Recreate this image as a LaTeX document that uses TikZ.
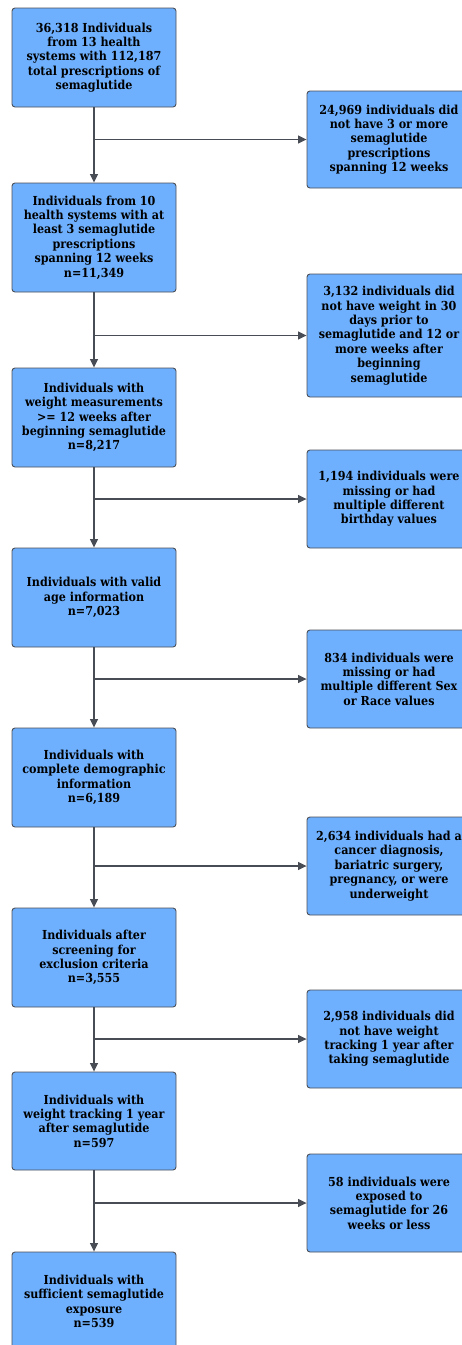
\documentclass[tikz,border=0pt]{standalone}
\usepackage{fontspec}
\setmainfont{DejaVu Serif Condensed}
\usetikzlibrary{arrows.meta}
\definecolor{boxfill}{HTML}{6EB0FD}
\definecolor{boxline}{HTML}{4A4F58}
\definecolor{arrowcol}{HTML}{474C55}
\tikzset{
  box/.style={draw=boxline, fill=boxfill, line width=0.9pt, rounded corners=3pt,
    minimum width=164pt, inner sep=0pt, align=center,
    font=\fontsize{12.4pt}{14.4pt}\selectfont\bfseries},
  flow/.style={draw=arrowcol, line width=1.2pt, -{Triangle[length=8.5pt,width=8pt]}}
}
\begin{document}
\begin{tikzpicture}[x=1pt,y=-1pt]
\useasboundingbox (0,0) rectangle (462,1345);
\clip (0,0) rectangle (462,1345);
% left column
\node[box, minimum height=99pt] (L1) at (94,57.5) {36,318 Individuals\\from 13 health\\systems with 112,187\\total prescriptions of\\semaglutide};
\node[box, minimum height=109pt] (L2) at (94,237.5) {Individuals from 10\\health systems with at\\least 3 semaglutide\\prescriptions\\spanning 12 weeks\\n=11,349};
\node[box, minimum height=99pt] (L3) at (94,417.5) {Individuals with\\weight measurements\\>= 12 weeks after\\beginning semaglutide\\n=8,217};
\node[box, minimum height=99pt] (L4) at (94,597.5) {Individuals with valid\\age information\\n=7,023};
\node[box, minimum height=99pt] (L5) at (94,777.5) {Individuals with\\complete demographic\\information\\n=6,189};
\node[box, minimum height=99pt] (L6) at (94,957.5) {Individuals after\\screening for\\exclusion criteria\\n=3,555};
\node[box, minimum height=98pt] (L7) at (94,1121) {Individuals with\\weight tracking 1 year\\after semaglutide\\n=597};
\node[box, minimum height=99pt] (L8) at (94,1301.5) {Individuals with\\sufficient semaglutide\\exposure\\n=539};
% right column
\node[box, minimum height=97pt] (R1) at (389,139.5) {24,969 individuals did\\not have 3 or more\\semaglutide\\prescriptions\\spanning 12 weeks};
\node[box, minimum height=123pt] (R2) at (389,335.5) {3,132 individuals did\\not have weight in 30\\days prior to\\semaglutide and 12 or\\more weeks after\\beginning\\semaglutide};
\node[box, minimum height=98pt] (R3) at (389,499) {1,194 individuals were\\missing or had\\multiple different\\birthday values};
\node[box, minimum height=98pt] (R4) at (389,679) {834 individuals were\\missing or had\\multiple different Sex\\or Race values};
\node[box, minimum height=98pt] (R5) at (389,866) {2,634 individuals had a\\cancer diagnosis,\\bariatric surgery,\\pregnancy, or were\\underweight};
\node[box, minimum height=98pt] (R6) at (389,1039) {2,958 individuals did\\not have weight\\tracking 1 year after\\taking semaglutide};
\node[box, minimum height=98pt] (R7) at (389,1203) {58 individuals were\\exposed to\\semaglutide for 26\\weeks or less};
% connectors
\foreach \a/\b in {L1/L2,L2/L3,L3/L4,L4/L5,L5/L6,L6/L7,L7/L8}
  \draw[flow] (\a.south) -- (\b.north);
\foreach \a/\r in {L1/R1,L2/R2,L3/R3,L4/R4,L5/R5,L6/R6,L7/R7}
  \draw[flow] (\a.south |- \r.west) -- (\r.west);
\end{tikzpicture}
\end{document}
